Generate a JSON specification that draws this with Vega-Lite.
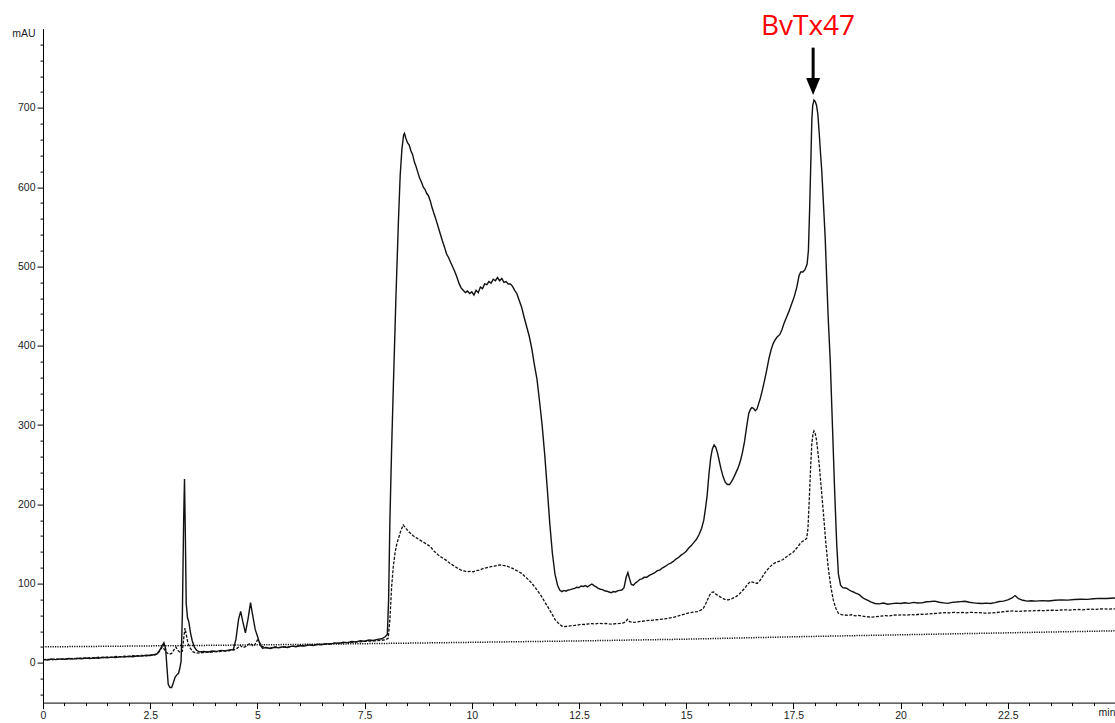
{
  "$schema": "https://vega.github.io/schema/vega-lite/v6.json",
  "width": 1072,
  "height": 674,
  "autosize": {"type": "none"},
  "padding": {"left": 43, "top": 28.6, "right": 0, "bottom": 20.4},
  "background": "white",
  "config": {
    "view": {"stroke": null},
    "axis": {
      "labelFont": "Liberation Sans",
      "labelFontSize": 10.5,
      "labelColor": "#222",
      "domainColor": "black",
      "tickColor": "black",
      "domainWidth": 1,
      "tickWidth": 1,
      "grid": false,
      "labelPadding": 2,
      "labelFlush": false,
      "labelOverlap": false,
      "labelBound": false
    }
  },
  "datasets": {
    "solid": [
      {"t":0.00,"v":4.5},{"t":0.10,"v":3.8},{"t":0.20,"v":5.0},{"t":0.30,"v":4.2},{"t":0.40,"v":5.1},
      {"t":0.50,"v":4.6},{"t":0.60,"v":5.6},{"t":0.70,"v":4.9},{"t":0.80,"v":6.0},{"t":0.90,"v":5.3},
      {"t":1.00,"v":6.2},{"t":1.10,"v":5.5},{"t":1.20,"v":6.6},{"t":1.30,"v":6.0},{"t":1.40,"v":7.1},
      {"t":1.50,"v":6.4},{"t":1.60,"v":7.4},{"t":1.70,"v":6.9},{"t":1.80,"v":8.0},{"t":1.90,"v":7.4},
      {"t":2.00,"v":8.5},{"t":2.10,"v":7.9},{"t":2.20,"v":9.0},{"t":2.30,"v":8.6},{"t":2.40,"v":9.7},
      {"t":2.50,"v":9.4},{"t":2.60,"v":10.6},{"t":2.66,"v":11.5},{"t":2.72,"v":16},{"t":2.78,"v":22},
      {"t":2.82,"v":25.5},{"t":2.86,"v":18},{"t":2.89,"v":-5},{"t":2.92,"v":-27},{"t":2.96,"v":-31},
      {"t":3.00,"v":-31},{"t":3.04,"v":-25},{"t":3.08,"v":-18},{"t":3.12,"v":-15},{"t":3.16,"v":-13},
      {"t":3.19,"v":-7},{"t":3.22,"v":2},{"t":3.25,"v":60},{"t":3.28,"v":180},{"t":3.30,"v":232},
      {"t":3.32,"v":160},{"t":3.34,"v":75},{"t":3.37,"v":57},{"t":3.40,"v":52},{"t":3.44,"v":38},
      {"t":3.48,"v":28},{"t":3.53,"v":20},{"t":3.58,"v":16},{"t":3.65,"v":14},{"t":3.75,"v":14.5},
      {"t":3.85,"v":13.8},{"t":3.95,"v":15},{"t":4.05,"v":14.6},{"t":4.15,"v":15.8},{"t":4.25,"v":15.2},
      {"t":4.35,"v":16.4},{"t":4.44,"v":17},{"t":4.50,"v":30},{"t":4.56,"v":55},{"t":4.61,"v":65},
      {"t":4.66,"v":52},{"t":4.72,"v":38},{"t":4.78,"v":55},{"t":4.84,"v":76},{"t":4.89,"v":60},
      {"t":4.95,"v":42},{"t":5.00,"v":34},{"t":5.06,"v":23},{"t":5.12,"v":18.5},{"t":5.20,"v":19.5},
      {"t":5.30,"v":18.2},{"t":5.40,"v":19.8},{"t":5.50,"v":19.0},{"t":5.60,"v":20.4},{"t":5.70,"v":19.6},
      {"t":5.80,"v":21.2},{"t":5.90,"v":20.5},{"t":6.00,"v":22.0},{"t":6.10,"v":21.4},{"t":6.20,"v":22.8},
      {"t":6.30,"v":22.1},{"t":6.40,"v":23.5},{"t":6.50,"v":22.9},{"t":6.60,"v":24.4},{"t":6.70,"v":23.8},
      {"t":6.80,"v":25.3},{"t":6.90,"v":24.6},{"t":7.00,"v":26.2},{"t":7.10,"v":25.6},{"t":7.20,"v":27.0},
      {"t":7.30,"v":26.6},{"t":7.40,"v":28.0},{"t":7.50,"v":27.4},{"t":7.60,"v":28.9},{"t":7.70,"v":28.3},
      {"t":7.80,"v":29.7},{"t":7.90,"v":30.5},{"t":7.98,"v":33},{"t":8.03,"v":36},{"t":8.06,"v":80},
      {"t":8.09,"v":180},{"t":8.13,"v":270},{"t":8.17,"v":348},{"t":8.23,"v":460},{"t":8.29,"v":559},
      {"t":8.33,"v":615},{"t":8.37,"v":648},{"t":8.41,"v":666},{"t":8.43,"v":668},{"t":8.46,"v":662},
      {"t":8.50,"v":656},{"t":8.54,"v":653},{"t":8.58,"v":646},{"t":8.62,"v":641},{"t":8.66,"v":632},
      {"t":8.70,"v":626},{"t":8.74,"v":619},{"t":8.78,"v":612},{"t":8.83,"v":606},{"t":8.87,"v":600},
      {"t":8.91,"v":597},{"t":8.95,"v":592},{"t":8.99,"v":589},{"t":9.03,"v":583},{"t":9.07,"v":575},
      {"t":9.11,"v":568},{"t":9.16,"v":560},{"t":9.21,"v":551},{"t":9.26,"v":542},{"t":9.31,"v":533},
      {"t":9.36,"v":525},{"t":9.41,"v":516},{"t":9.46,"v":511},{"t":9.50,"v":506},{"t":9.55,"v":500},
      {"t":9.60,"v":494},{"t":9.65,"v":487},{"t":9.70,"v":479},{"t":9.75,"v":473},{"t":9.80,"v":470},
      {"t":9.85,"v":467},{"t":9.90,"v":469},{"t":9.95,"v":466},{"t":10.00,"v":468},{"t":10.05,"v":464},
      {"t":10.10,"v":470},{"t":10.15,"v":467},{"t":10.20,"v":474},{"t":10.25,"v":472},{"t":10.30,"v":478},
      {"t":10.35,"v":477},{"t":10.40,"v":481},{"t":10.45,"v":479},{"t":10.50,"v":484},{"t":10.55,"v":482},
      {"t":10.60,"v":486},{"t":10.65,"v":482},{"t":10.70,"v":485},{"t":10.75,"v":480},{"t":10.80,"v":481},
      {"t":10.85,"v":478},{"t":10.90,"v":478},{"t":10.95,"v":475},{"t":11.00,"v":470},{"t":11.05,"v":466},
      {"t":11.10,"v":458},{"t":11.16,"v":449},{"t":11.22,"v":436},{"t":11.28,"v":424},{"t":11.34,"v":412},
      {"t":11.40,"v":396},{"t":11.46,"v":376},{"t":11.52,"v":358},{"t":11.58,"v":330},{"t":11.64,"v":300},
      {"t":11.70,"v":263},{"t":11.76,"v":220},{"t":11.82,"v":175},{"t":11.88,"v":138},{"t":11.94,"v":112},
      {"t":12.00,"v":98},{"t":12.05,"v":92},{"t":12.10,"v":90},{"t":12.15,"v":91.5},{"t":12.20,"v":90.5},
      {"t":12.25,"v":92},{"t":12.30,"v":92.5},{"t":12.35,"v":93.5},{"t":12.40,"v":94},{"t":12.45,"v":95.5},
      {"t":12.50,"v":95},{"t":12.55,"v":97},{"t":12.60,"v":96.5},{"t":12.65,"v":97.5},{"t":12.70,"v":96},
      {"t":12.75,"v":98},{"t":12.80,"v":99.5},{"t":12.85,"v":97.5},{"t":12.90,"v":96},{"t":12.95,"v":94},
      {"t":13.00,"v":93},{"t":13.05,"v":92.5},{"t":13.10,"v":91},{"t":13.15,"v":90.5},{"t":13.20,"v":89.5},
      {"t":13.25,"v":88.5},{"t":13.30,"v":90},{"t":13.35,"v":89.5},{"t":13.40,"v":91},{"t":13.45,"v":91.5},
      {"t":13.50,"v":92},{"t":13.55,"v":95},{"t":13.60,"v":108},{"t":13.64,"v":114},{"t":13.68,"v":106},
      {"t":13.72,"v":99},{"t":13.77,"v":98},{"t":13.82,"v":101},{"t":13.87,"v":103},{"t":13.92,"v":105.5},
      {"t":13.97,"v":106},{"t":14.02,"v":108},{"t":14.08,"v":108},{"t":14.14,"v":110.5},{"t":14.20,"v":112},
      {"t":14.26,"v":113.5},{"t":14.32,"v":116},{"t":14.39,"v":117.5},{"t":14.45,"v":120},{"t":14.52,"v":122},
      {"t":14.58,"v":124.5},{"t":14.64,"v":126},{"t":14.70,"v":128},{"t":14.76,"v":131},{"t":14.82,"v":133},
      {"t":14.88,"v":136},{"t":14.94,"v":138},{"t":15.00,"v":141},{"t":15.06,"v":145},{"t":15.12,"v":148},
      {"t":15.18,"v":152},{"t":15.24,"v":156},{"t":15.30,"v":162},{"t":15.36,"v":170},{"t":15.41,"v":180},
      {"t":15.45,"v":195},{"t":15.49,"v":212},{"t":15.53,"v":238},{"t":15.57,"v":258},{"t":15.61,"v":270},
      {"t":15.65,"v":275},{"t":15.69,"v":272},{"t":15.73,"v":265},{"t":15.77,"v":255},{"t":15.81,"v":245},
      {"t":15.86,"v":235},{"t":15.91,"v":228},{"t":15.96,"v":225},{"t":16.01,"v":225},{"t":16.06,"v":229},
      {"t":16.11,"v":234},{"t":16.16,"v":240},{"t":16.21,"v":246},{"t":16.26,"v":254},{"t":16.31,"v":265},
      {"t":16.36,"v":279},{"t":16.41,"v":298},{"t":16.46,"v":315},{"t":16.50,"v":320},{"t":16.53,"v":322},
      {"t":16.57,"v":321},{"t":16.61,"v":318},{"t":16.65,"v":320},{"t":16.69,"v":327},{"t":16.73,"v":334},
      {"t":16.78,"v":345},{"t":16.83,"v":357},{"t":16.88,"v":370},{"t":16.93,"v":384},{"t":16.98,"v":395},
      {"t":17.03,"v":403},{"t":17.07,"v":407},{"t":17.12,"v":411},{"t":17.18,"v":414},{"t":17.23,"v":420},
      {"t":17.28,"v":428},{"t":17.34,"v":436},{"t":17.40,"v":444},{"t":17.46,"v":453},{"t":17.52,"v":462},
      {"t":17.58,"v":474},{"t":17.63,"v":488},{"t":17.67,"v":493},{"t":17.72,"v":493},{"t":17.77,"v":496},
      {"t":17.82,"v":503},{"t":17.85,"v":520},{"t":17.88,"v":575},{"t":17.91,"v":640},{"t":17.93,"v":685},
      {"t":17.95,"v":703},{"t":17.98,"v":710},{"t":18.01,"v":708},{"t":18.04,"v":703},{"t":18.07,"v":692},
      {"t":18.10,"v":670},{"t":18.13,"v":645},{"t":18.16,"v":622},{"t":18.20,"v":580},{"t":18.24,"v":538},
      {"t":18.28,"v":480},{"t":18.31,"v":437},{"t":18.36,"v":380},{"t":18.41,"v":300},{"t":18.46,"v":220},
      {"t":18.51,"v":150},{"t":18.55,"v":112},{"t":18.60,"v":98},{"t":18.65,"v":95},{"t":18.70,"v":94.5},
      {"t":18.75,"v":94},{"t":18.80,"v":92},{"t":18.85,"v":90.5},{"t":18.90,"v":89.5},{"t":18.95,"v":88},
      {"t":19.00,"v":87},{"t":19.05,"v":85.5},{"t":19.10,"v":83},{"t":19.15,"v":81},{"t":19.20,"v":80},
      {"t":19.25,"v":78.5},{"t":19.30,"v":77},{"t":19.35,"v":76},{"t":19.40,"v":75},{"t":19.50,"v":74.5},
      {"t":19.60,"v":75.5},{"t":19.70,"v":74},{"t":19.80,"v":74.8},{"t":19.90,"v":75.5},{"t":20.00,"v":75},
      {"t":20.10,"v":76},{"t":20.20,"v":75.2},{"t":20.30,"v":76.4},{"t":20.40,"v":75.6},{"t":20.50,"v":75.8},
      {"t":20.60,"v":77.2},{"t":20.70,"v":77.5},{"t":20.80,"v":78},{"t":20.90,"v":76.5},{"t":21.00,"v":75.8},
      {"t":21.10,"v":75.2},{"t":21.20,"v":76.4},{"t":21.30,"v":76.8},{"t":21.40,"v":77.4},{"t":21.50,"v":77.8},
      {"t":21.60,"v":76.5},{"t":21.70,"v":75.8},{"t":21.80,"v":75.2},{"t":21.90,"v":75},{"t":22.00,"v":75.5},
      {"t":22.10,"v":75},{"t":22.20,"v":76},{"t":22.30,"v":77.5},{"t":22.40,"v":78},{"t":22.50,"v":79.5},
      {"t":22.60,"v":82},{"t":22.67,"v":85},{"t":22.75,"v":81},{"t":22.85,"v":79},{"t":22.95,"v":78},
      {"t":23.05,"v":78.5},{"t":23.15,"v":78},{"t":23.30,"v":78.6},{"t":23.45,"v":78.2},{"t":23.60,"v":79},
      {"t":23.75,"v":79.5},{"t":23.90,"v":79.2},{"t":24.05,"v":80},{"t":24.20,"v":80.4},{"t":24.35,"v":80.2},
      {"t":24.50,"v":81},{"t":24.65,"v":81.5},{"t":24.80,"v":81.2},{"t":25.00,"v":82}
    ],
    "dashed": [
      {"t":0.00,"v":4.0},{"t":0.10,"v":4.6},{"t":0.20,"v":3.9},{"t":0.30,"v":5.2},{"t":0.40,"v":4.5},
      {"t":0.50,"v":5.3},{"t":0.60,"v":4.8},{"t":0.70,"v":5.9},{"t":0.80,"v":5.2},{"t":0.90,"v":6.4},
      {"t":1.00,"v":5.8},{"t":1.10,"v":6.8},{"t":1.20,"v":6.2},{"t":1.30,"v":7.2},{"t":1.40,"v":6.7},
      {"t":1.50,"v":7.6},{"t":1.60,"v":7.1},{"t":1.70,"v":8.1},{"t":1.80,"v":7.6},{"t":1.90,"v":8.6},
      {"t":2.00,"v":8.0},{"t":2.10,"v":9.1},{"t":2.20,"v":8.5},{"t":2.30,"v":9.6},{"t":2.40,"v":9.0},
      {"t":2.50,"v":10.1},{"t":2.60,"v":9.8},{"t":2.66,"v":11},{"t":2.72,"v":15},{"t":2.78,"v":20},
      {"t":2.82,"v":18},{"t":2.88,"v":13},{"t":2.94,"v":11},{"t":3.00,"v":12},{"t":3.06,"v":17},
      {"t":3.10,"v":20},{"t":3.14,"v":16},{"t":3.20,"v":13},{"t":3.25,"v":15},{"t":3.28,"v":30},
      {"t":3.31,"v":44},{"t":3.34,"v":36},{"t":3.38,"v":25},{"t":3.43,"v":19},{"t":3.50,"v":14},
      {"t":3.58,"v":12.5},{"t":3.68,"v":12.8},{"t":3.78,"v":13.6},{"t":3.88,"v":13.2},{"t":3.98,"v":14.3},
      {"t":4.08,"v":14},{"t":4.18,"v":15.1},{"t":4.28,"v":14.8},{"t":4.38,"v":16},{"t":4.46,"v":16.5},
      {"t":4.54,"v":19},{"t":4.60,"v":22},{"t":4.66,"v":19.5},{"t":4.72,"v":20.5},{"t":4.78,"v":23},
      {"t":4.84,"v":25},{"t":4.90,"v":21},{"t":4.95,"v":24},{"t":5.00,"v":29},{"t":5.04,"v":27},
      {"t":5.10,"v":21},{"t":5.20,"v":19.5},{"t":5.30,"v":18.8},{"t":5.40,"v":20.2},{"t":5.50,"v":19.6},
      {"t":5.60,"v":20.0},{"t":5.70,"v":20.3},{"t":5.80,"v":20.8},{"t":5.90,"v":21.2},{"t":6.00,"v":21.6},
      {"t":6.10,"v":22.0},{"t":6.20,"v":22.4},{"t":6.30,"v":22.7},{"t":6.40,"v":23.1},{"t":6.50,"v":23.5},
      {"t":6.60,"v":23.8},{"t":6.70,"v":24.2},{"t":6.80,"v":24.6},{"t":6.90,"v":25.0},{"t":7.00,"v":25.3},
      {"t":7.10,"v":25.7},{"t":7.20,"v":26.0},{"t":7.30,"v":26.4},{"t":7.40,"v":26.7},{"t":7.50,"v":27.1},
      {"t":7.60,"v":27.4},{"t":7.70,"v":27.8},{"t":7.80,"v":28.1},{"t":7.90,"v":28.6},{"t":8.00,"v":29.5},
      {"t":8.05,"v":31},{"t":8.09,"v":55},{"t":8.13,"v":96},{"t":8.17,"v":122},{"t":8.21,"v":139},
      {"t":8.25,"v":150},{"t":8.29,"v":157},{"t":8.34,"v":166},{"t":8.40,"v":174},{"t":8.46,"v":170},
      {"t":8.52,"v":166},{"t":8.58,"v":163},{"t":8.64,"v":160},{"t":8.70,"v":158},{"t":8.76,"v":156},
      {"t":8.82,"v":154},{"t":8.88,"v":152},{"t":8.94,"v":150},{"t":9.00,"v":148},{"t":9.06,"v":145},
      {"t":9.12,"v":141},{"t":9.18,"v":138},{"t":9.24,"v":135},{"t":9.30,"v":133},{"t":9.36,"v":131},
      {"t":9.42,"v":129},{"t":9.48,"v":126},{"t":9.54,"v":124},{"t":9.61,"v":121.5},{"t":9.68,"v":119},
      {"t":9.75,"v":117},{"t":9.82,"v":116},{"t":9.89,"v":115},{"t":9.96,"v":115.5},{"t":10.03,"v":115},
      {"t":10.10,"v":116.5},{"t":10.17,"v":117},{"t":10.24,"v":118.5},{"t":10.31,"v":119.5},{"t":10.38,"v":120.5},
      {"t":10.45,"v":121.5},{"t":10.52,"v":122},{"t":10.59,"v":123},{"t":10.66,"v":123.6},{"t":10.73,"v":123},
      {"t":10.80,"v":122.5},{"t":10.87,"v":121},{"t":10.94,"v":119.5},{"t":11.01,"v":117.5},{"t":11.08,"v":115.5},
      {"t":11.16,"v":113},{"t":11.24,"v":109},{"t":11.32,"v":105},{"t":11.40,"v":100.5},{"t":11.48,"v":95},
      {"t":11.56,"v":89},{"t":11.63,"v":83.6},{"t":11.70,"v":77},{"t":11.78,"v":70},{"t":11.86,"v":62.7},
      {"t":11.94,"v":55},{"t":12.02,"v":50},{"t":12.10,"v":46.5},{"t":12.17,"v":45.8},{"t":12.25,"v":46.5},
      {"t":12.33,"v":47},{"t":12.41,"v":47.5},{"t":12.49,"v":48},{"t":12.56,"v":48.8},{"t":12.64,"v":48.5},
      {"t":12.72,"v":49.2},{"t":12.80,"v":49.6},{"t":12.88,"v":49.2},{"t":12.96,"v":50},{"t":13.04,"v":49.5},
      {"t":13.12,"v":49.8},{"t":13.20,"v":49.2},{"t":13.28,"v":49},{"t":13.36,"v":49.6},{"t":13.44,"v":49.8},
      {"t":13.52,"v":50.2},{"t":13.58,"v":51.5},{"t":13.63,"v":55},{"t":13.68,"v":52},{"t":13.74,"v":51.2},
      {"t":13.82,"v":51.5},{"t":13.90,"v":52.2},{"t":13.98,"v":52.6},{"t":14.06,"v":53.2},{"t":14.14,"v":53.6},
      {"t":14.22,"v":54},{"t":14.30,"v":54.5},{"t":14.38,"v":54.8},{"t":14.46,"v":55.2},{"t":14.54,"v":56},
      {"t":14.62,"v":56.8},{"t":14.70,"v":57.5},{"t":14.78,"v":58.6},{"t":14.86,"v":60},{"t":14.94,"v":61.2},
      {"t":15.02,"v":62.5},{"t":15.10,"v":63.5},{"t":15.18,"v":64.2},{"t":15.26,"v":64.8},{"t":15.34,"v":66.5},
      {"t":15.40,"v":69},{"t":15.45,"v":74},{"t":15.50,"v":80},{"t":15.55,"v":86},{"t":15.60,"v":89},
      {"t":15.64,"v":89.5},{"t":15.69,"v":87},{"t":15.74,"v":85},{"t":15.80,"v":83},{"t":15.86,"v":81},
      {"t":15.92,"v":80},{"t":15.98,"v":79.5},{"t":16.04,"v":80.5},{"t":16.10,"v":82},{"t":16.17,"v":84},
      {"t":16.24,"v":87},{"t":16.31,"v":91},{"t":16.37,"v":94.5},{"t":16.43,"v":99},{"t":16.49,"v":102.5},
      {"t":16.55,"v":102},{"t":16.61,"v":100.5},{"t":16.66,"v":100.5},{"t":16.72,"v":104},{"t":16.78,"v":109},
      {"t":16.84,"v":114},{"t":16.90,"v":118},{"t":16.96,"v":121.5},{"t":17.03,"v":125},{"t":17.10,"v":127},
      {"t":17.18,"v":128.5},{"t":17.26,"v":130.5},{"t":17.34,"v":134},{"t":17.42,"v":137},{"t":17.50,"v":140},
      {"t":17.58,"v":145},{"t":17.65,"v":150},{"t":17.70,"v":153},{"t":17.76,"v":155},{"t":17.81,"v":157},
      {"t":17.84,"v":170},{"t":17.87,"v":206},{"t":17.90,"v":245},{"t":17.93,"v":277},{"t":17.96,"v":290},
      {"t":17.98,"v":292.6},{"t":18.01,"v":289},{"t":18.04,"v":281},{"t":18.08,"v":262},{"t":18.12,"v":239},
      {"t":18.16,"v":214},{"t":18.20,"v":189},{"t":18.25,"v":155},{"t":18.31,"v":121.5},{"t":18.37,"v":97},
      {"t":18.43,"v":79.5},{"t":18.49,"v":69},{"t":18.55,"v":62.7},{"t":18.62,"v":61},{"t":18.70,"v":60.5},
      {"t":18.78,"v":60},{"t":18.86,"v":60.8},{"t":18.94,"v":59.5},{"t":19.02,"v":60},{"t":19.10,"v":59.2},
      {"t":19.18,"v":58.5},{"t":19.26,"v":58},{"t":19.34,"v":57.8},{"t":19.44,"v":58.4},{"t":19.54,"v":59},
      {"t":19.64,"v":59.6},{"t":19.74,"v":59.3},{"t":19.84,"v":60.5},{"t":19.94,"v":60.2},{"t":20.04,"v":60.8},
      {"t":20.14,"v":60.3},{"t":20.24,"v":61},{"t":20.34,"v":60.6},{"t":20.44,"v":61.5},{"t":20.54,"v":61.2},
      {"t":20.64,"v":61.8},{"t":20.74,"v":62.2},{"t":20.84,"v":62.6},{"t":20.94,"v":63},{"t":21.04,"v":63.5},
      {"t":21.14,"v":63.2},{"t":21.24,"v":63.8},{"t":21.34,"v":63.4},{"t":21.44,"v":63.6},{"t":21.54,"v":63.2},
      {"t":21.64,"v":63.8},{"t":21.74,"v":63.5},{"t":21.84,"v":63.4},{"t":21.94,"v":63.0},{"t":22.04,"v":62.8},
      {"t":22.14,"v":63.2},{"t":22.24,"v":63.6},{"t":22.34,"v":64.2},{"t":22.44,"v":64.8},{"t":22.54,"v":65.4},
      {"t":22.64,"v":65.6},{"t":22.74,"v":65},{"t":22.84,"v":65.4},{"t":22.94,"v":65.8},{"t":23.04,"v":65.6},
      {"t":23.14,"v":66},{"t":23.24,"v":66.2},{"t":23.34,"v":65.9},{"t":23.44,"v":66.3},{"t":23.54,"v":66.6},
      {"t":23.64,"v":66.2},{"t":23.74,"v":66.8},{"t":23.84,"v":67},{"t":23.94,"v":66.7},{"t":24.04,"v":67.2},
      {"t":24.14,"v":67.4},{"t":24.24,"v":67},{"t":24.34,"v":67.5},{"t":24.44,"v":67.8},{"t":24.54,"v":67.5},
      {"t":24.64,"v":68},{"t":24.74,"v":68.2},{"t":24.84,"v":67.9},{"t":25.00,"v":68.3}
    ],
    "dotted": [
      {"t":0,"v":20.3},{"t":2.5,"v":21.5},{"t":5,"v":22.8},{"t":7.5,"v":24.3},{"t":10,"v":26},
      {"t":12.5,"v":27.8},{"t":15,"v":30},{"t":17.5,"v":33},{"t":20,"v":35.5},{"t":22.5,"v":38},{"t":25,"v":40.5}
    ],
    "peak": [
      {"label":"BvTx47","t":17.96,"tLabel":17.84,"vLabel":792,"vTop":776,"vShaft":733,"vHead":727}
    ]
  },
  "encoding": {
    "x": {
      "field": "t",
      "type": "quantitative",
      "scale": {"domain": [0, 25], "nice": false, "zero": false},
      "axis": {
        "title": null,
        "values": [0,0.5,1,1.5,2,2.5,3,3.5,4,4.5,5,5.5,6,6.5,7,7.5,8,8.5,9,9.5,10,10.5,11,11.5,12,12.5,13,13.5,14,14.5,15,15.5,16,16.5,17,17.5,18,18.5,19,19.5,20,20.5,21,21.5,22,22.5,23,23.5,24,24.5,25],
        "format": "~g",
        "labelExpr": "datum.value == 25 ? 'min' : (datum.value % 2.5 == 0 ? datum.label : '')",
        "labelAlign": {"condition": {"test": "datum.value == 25", "value": "right"}, "value": "center"},
        "tickSize": {"condition": {"test": "datum.value % 2.5 == 0 && datum.value < 25", "value": 6}, "value": 3}
      }
    },
    "y": {
      "field": "v",
      "type": "quantitative",
      "scale": {"domain": [-50, 800], "nice": false, "zero": false},
      "axis": {
        "title": null,
        "values": [-40,-20,0,20,40,60,80,100,120,140,160,180,200,220,240,260,280,300,320,340,360,380,400,420,440,460,480,500,520,540,560,580,600,620,640,660,680,700,720,740,760,780,800],
        "format": "d",
        "labelExpr": "datum.value == 800 ? 'mAU' : (datum.value % 100 == 0 ? datum.label : '')",
        "labelBaseline": {"condition": {"test": "datum.value == 800", "value": "top"}, "value": "middle"},
        "tickSize": {"condition": {"test": "datum.value % 100 == 0", "value": 6}, "value": 3},
        "tickOpacity": {"condition": {"test": "datum.value == 800", "value": 0}, "value": 1}
      }
    }
  },
  "layer": [
    {
      "data": {"name": "dotted"},
      "mark": {"type": "line", "color": "#111", "strokeWidth": 1.5, "strokeDash": [1.2, 1.2]}
    },
    {
      "data": {"name": "dashed"},
      "mark": {"type": "line", "color": "#111", "strokeWidth": 1.3, "strokeDash": [3, 1.5]}
    },
    {
      "data": {"name": "solid"},
      "mark": {"type": "line", "color": "#111", "strokeWidth": 1.4}
    },
    {
      "data": {"name": "peak"},
      "mark": {"type": "rule", "color": "black", "strokeWidth": 3},
      "encoding": {
        "x": {"field": "t", "type": "quantitative"},
        "y": {"field": "vTop", "type": "quantitative"},
        "y2": {"field": "vShaft"}
      }
    },
    {
      "data": {"name": "peak"},
      "mark": {"type": "point", "shape": "M0,1.2L-1,-1.2L1,-1.2Z", "size": 196, "filled": true, "color": "black", "opacity": 1},
      "encoding": {
        "x": {"field": "t", "type": "quantitative"},
        "y": {"field": "vHead", "type": "quantitative"}
      }
    },
    {
      "data": {"name": "peak"},
      "mark": {"type": "text", "color": "#ff0000", "font": "Open Sans", "fontSize": 28, "align": "center", "baseline": "alphabetic"},
      "encoding": {
        "x": {"field": "tLabel", "type": "quantitative"},
        "y": {"field": "vLabel", "type": "quantitative"},
        "text": {"field": "label"}
      }
    }
  ]
}
